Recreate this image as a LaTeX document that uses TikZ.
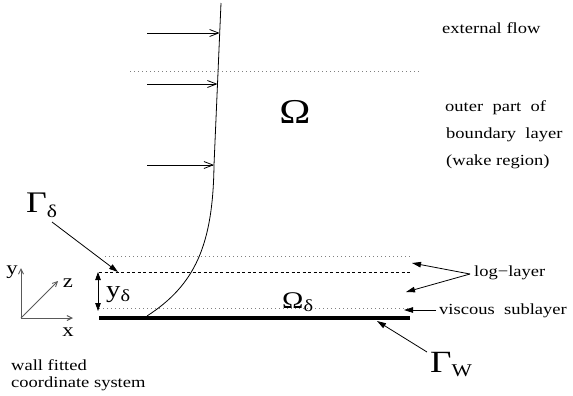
\documentclass[tikz,border=0pt]{standalone}
\usepackage{fontspec}
\setmainfont[FakeStretch=1.2]{Liberation Serif}
\usetikzlibrary{arrows.meta}
\tikzset{
  lbl/.style={inner sep=0pt, font=\fontsize{15.5}{18}\selectfont},
  axlbl/.style={inner sep=0pt, font=\fontsize{19}{20}\selectfont},
  dotline/.style={line width=0.7bp, gray, dash pattern=on 0.7bp off 3.3bp},
  dashline/.style={line width=0.8bp, dash pattern=on 3bp off 2.5bp},
  flowarrow/.style={line width=0.8bp, -{Straight Barb[length=9bp,width=7bp]}},
  ptr/.style={line width=0.8bp, -{Triangle[length=9bp,width=5.5bp]}},
  axis/.style={line width=1bp, black!65, -{Straight Barb[length=5bp,width=5bp]}},
}
\begin{document}
\begin{tikzpicture}[x=1bp,y=-1bp]
\useasboundingbox (0,0) rectangle (573,395);

% layer lines
\draw[dotline] (130,71) -- (420,71);
\draw[dotline] (105,256) -- (410,256);
\draw[dashline] (99,272) -- (412,272);
\draw[dotline] (99,308) -- (410,308);
\draw[line width=4bp] (99,318) -- (410,318);

% velocity profile
\coordinate (ptop) at (221,3);
\coordinate (pmid) at (214,165);
\coordinate (pbot) at (147,316);
\draw[line width=0.8bp] (ptop) -- (pmid) .. controls (213,245) and (195,285) .. (pbot);

% flow arrows
\coordinate (f1s) at (147,33); \coordinate (f1e) at (219.7,33);
\coordinate (f2s) at (147,84); \coordinate (f2e) at (217.5,84);
\coordinate (f3s) at (147,165); \coordinate (f3e) at (214,165);
\draw[flowarrow] (f1s) -- (f1e);
\draw[flowarrow] (f2s) -- (f2e);
\draw[flowarrow] (f3s) -- (f3e);

% domain labels
\node[inner sep=0pt, font=\fontsize{35}{35}\selectfont] (om) at (295,112) {Ω};
\node[inner sep=0pt, anchor=base west] (omd) at (282,308) {\fontsize{24}{24}\selectfont Ω\raisebox{-3bp}{\fontsize{17}{17}\selectfont δ}};

% right labels
\node[lbl, anchor=base west] (ext) at (442,33) {external flow};
\node[lbl, anchor=base west] (out1) at (445,111) {outer\ \ part\ \ of};
\node[lbl, anchor=base west] (out2) at (446,138) {boundary\ \ layer};
\node[lbl, anchor=base west] (out3) at (446,165) {(wake region)};
\node[lbl, anchor=base west] (log) at (474,276) {log−layer};
\node[lbl, anchor=base west] (visc) at (439,314) {viscous\ \ sublayer};

\coordinate (logfrom) at (470,274);
\coordinate (logto1) at (412,263);
\coordinate (logto2) at (406,292);
\draw[ptr] (logfrom) -- (logto1);
\draw[ptr] (logfrom) -- (logto2);
\coordinate (viscfrom) at (436,310);
\coordinate (viscto) at (404,310);
\draw[ptr] (viscfrom) -- (viscto);

% Gamma delta
\node[inner sep=0pt, anchor=base west] (gd) at (26,212) {\fontsize{30}{30}\selectfont Γ\raisebox{-5bp}{\fontsize{18}{18}\selectfont δ}};
\coordinate (gdfrom) at (52,222);
\coordinate (gdto) at (118,272);
\draw[ptr] (gdfrom) -- (gdto);

% Gamma W
\node[inner sep=0pt, anchor=base west] (gw) at (430,372) {\fontsize{31}{31}\selectfont Γ\raisebox{-4bp}{\fontsize{18}{18}\selectfont W}};
\coordinate (gwfrom) at (427,352);
\coordinate (gwto) at (377,321);
\draw[ptr] (gwfrom) -- (gwto);

% y delta
\coordinate (ydtop) at (98,272);
\coordinate (ydbot) at (98,311);
\draw[line width=0.8bp, {Triangle[length=8bp,width=5.5bp]}-{Triangle[length=8bp,width=5.5bp]}] (ydtop) -- (ydbot);
\node[inner sep=0pt, anchor=base west] (yd) at (106,297) {\fontsize{24}{24}\selectfont y\raisebox{-4bp}{\fontsize{17}{17}\selectfont δ}};

% coordinate system
\coordinate (o) at (21,318);
\coordinate (ya) at (21,268);
\coordinate (xa) at (73,318);
\coordinate (za) at (58,281);
\draw[axis] (o) -- (ya);
\draw[axis] (o) -- (xa);
\draw[axis, line width=0.8bp] (o) -- (za);
\node[axlbl] (ylbl) at (12,272) {y};
\node[axlbl] (zlbl) at (68,283) {z};
\node[axlbl] (xlbl) at (68,332) {x};

\node[lbl, anchor=base west] (w1) at (11,370) {wall fitted};
\node[lbl, anchor=base west] (w2) at (11,387) {coordinate system};
\end{tikzpicture}
\end{document}
